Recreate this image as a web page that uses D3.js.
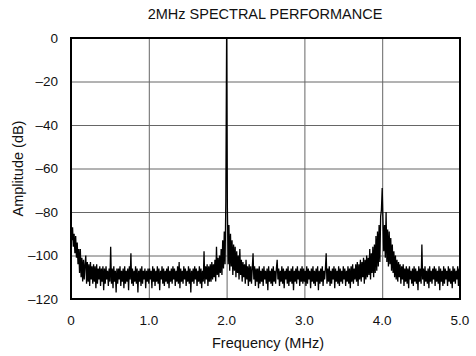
<!DOCTYPE html>
<html>
<head>
<meta charset="utf-8">
<script src="https://cdn.jsdelivr.net/npm/d3@7"></script>
<style>
  html, body { margin: 0; padding: 0; background: #fff; }
  text { font-family: "Liberation Sans", Arial, Helvetica, sans-serif; fill: #111; }
</style>
</head>
<body>
<svg id="chart" width="476" height="356"></svg>
<script>
// ---- data (amplitude in dB, one sample every 0.01 MHz) ----
const title = "2MHz SPECTRAL PERFORMANCE";
const xLabel = "Frequency (MHz)";
const yLabel = "Amplitude (dB)";
const xTicks = [0, 1, 2, 3, 4, 5];
const xTickLabels = ["0", "1.0", "2.0", "3.0", "4.0", "5.0"];
const yTicks = [0, -20, -40, -60, -80, -100, -120];
const yTickLabels = ["0", "\u201320", "\u201340", "\u201360", "\u201380", "\u2013100", "\u2013120"];
const freqStep = 0.01;

// 0.00 - 0.99 MHz
const seg0 = [
  -88,-93,-87,-96,-90,-99,-91,-101,-94,-104,
  -97,-108,-97,-110,-101,-112,-102,-111,-104,-100,
  -113,-103,-112,-104,-114,-103,-111,-105,-113,-104,
  -112,-105,-115,-104,-113,-106,-111,-105,-114,-106,
  -112,-105,-116,-106,-113,-105,-111,-107,-114,-106,
  -112,-96,-113,-106,-115,-105,-112,-107,-117,-106,
  -113,-106,-111,-105,-114,-107,-112,-106,-115,-105,
  -113,-107,-112,-106,-116,-105,-111,-99,-113,-106,
  -114,-107,-112,-105,-113,-106,-117,-107,-112,-106,
  -114,-105,-113,-107,-111,-106,-115,-107,-112,-106
];
// 1.00 - 1.99 MHz
const seg1 = [
  -113,-106,-111,-107,-115,-105,-112,-106,-114,-107,
  -112,-105,-113,-106,-116,-107,-111,-105,-113,-106,
  -114,-107,-112,-106,-113,-105,-115,-107,-112,-106,
  -113,-105,-111,-106,-114,-107,-112,-105,-113,-103,
  -115,-106,-112,-107,-113,-105,-111,-106,-114,-107,
  -112,-105,-113,-106,-117,-107,-112,-106,-113,-105,
  -111,-106,-114,-107,-112,-105,-113,-106,-115,-107,
  -112,-98,-113,-105,-111,-104,-114,-105,-112,-104,
  -112,-103,-111,-104,-110,-102,-112,-96,-109,-101,
  -110,-100,-108,-97,-109,-93,-106,-89,-104,-75
];
// 2.00 - 2.99 MHz
const seg2 = [
  0,-78,-104,-86,-107,-90,-105,-93,-109,-95,
  -107,-96,-110,-98,-108,-100,-111,-97,-109,-102,
  -112,-103,-110,-104,-113,-102,-111,-105,-114,-104,
  -112,-105,-113,-106,-99,-111,-105,-114,-106,-112,
  -106,-115,-105,-113,-107,-112,-106,-114,-105,-111,
  -107,-113,-106,-116,-105,-112,-107,-113,-106,-114,
  -105,-112,-107,-113,-106,-102,-111,-106,-114,-107,
  -112,-105,-113,-106,-115,-107,-111,-106,-113,-105,
  -114,-107,-112,-106,-113,-105,-116,-107,-112,-106,
  -113,-105,-111,-107,-114,-106,-112,-105,-113,-106
];
// 3.00 - 3.99 MHz
const seg3 = [
  -112,-107,-114,-105,-113,-106,-111,-107,-115,-106,
  -112,-105,-113,-107,-114,-106,-112,-105,-116,-107,
  -113,-106,-112,-105,-114,-107,-111,-106,-99,-113,
  -106,-112,-105,-114,-107,-113,-106,-111,-105,-115,
  -106,-112,-107,-113,-105,-114,-106,-112,-107,-113,
  -105,-111,-106,-114,-107,-112,-105,-113,-106,-115,
  -105,-112,-104,-113,-106,-111,-104,-112,-103,-114,
  -104,-111,-102,-112,-103,-110,-101,-113,-102,-111,
  -100,-110,-101,-109,-97,-111,-99,-108,-96,-110,
  -95,-108,-91,-107,-89,-105,-86,-103,-82,-79
];
// 4.00 - 5.00 MHz
const seg4 = [
  -69,-84,-98,-86,-101,-80,-103,-88,-105,-89,
  -104,-92,-107,-95,-108,-98,-110,-100,-111,-102,
  -112,-103,-110,-104,-113,-105,-111,-104,-114,-106,
  -112,-105,-113,-106,-115,-105,-111,-107,-113,-106,
  -114,-105,-112,-106,-113,-107,-116,-105,-112,-106,
  -113,-95,-111,-106,-114,-105,-112,-107,-113,-106,
  -115,-105,-112,-107,-113,-106,-111,-105,-114,-106,
  -112,-107,-113,-105,-116,-106,-112,-107,-114,-105,
  -113,-106,-111,-107,-114,-105,-112,-106,-113,-107,
  -115,-105,-112,-106,-113,-107,-111,-105,-114,-106,
  -112
];

// ---- chart ----
const svg = d3.select("#chart");
const L = 71, R = 460, T = 38, B = 299;
const x = d3.scaleLinear().domain([0, 5]).range([L, R]);
const y = d3.scaleLinear().domain([-120, 0]).range([B, T]);

const amps = [].concat(seg0, seg1, seg2, seg3, seg4);
const trace = amps.map((a, i) => ({ f: i * freqStep, a: a }));

// title
svg.append("text").attr("x", 265).attr("y", 19)
  .attr("text-anchor", "middle").style("font-size", "14.5px").text(title);

// gridlines
svg.append("g").attr("transform", `translate(0,${B})`)
  .call(d3.axisBottom(x).tickValues(xTicks).tickSize(-(B - T)).tickFormat(""))
  .call(g => g.select(".domain").remove())
  .call(g => g.selectAll("line").attr("stroke", "#666").attr("stroke-width", 1));
svg.append("g").attr("transform", `translate(${L},0)`)
  .call(d3.axisLeft(y).tickValues(yTicks).tickSize(-(R - L)).tickFormat(""))
  .call(g => g.select(".domain").remove())
  .call(g => g.selectAll("line").attr("stroke", "#666").attr("stroke-width", 1));

// trace
const line = d3.line().x(d => x(d.f)).y(d => y(d.a));
svg.append("path").datum(trace)
  .attr("d", line).attr("fill", "none")
  .attr("stroke", "#000").attr("stroke-width", 1.3)
  .attr("stroke-linejoin", "bevel");

// frame
svg.append("rect").attr("x", L).attr("y", T)
  .attr("width", R - L).attr("height", B - T)
  .attr("fill", "none").attr("stroke", "#000").attr("stroke-width", 2);

// tick labels
svg.append("g").selectAll("text").data(yTicks).join("text")
  .attr("x", 58).attr("y", d => y(d)).attr("dy", "0.35em")
  .attr("text-anchor", "end").style("font-size", "13.5px")
  .text((d, i) => yTickLabels[i]);
svg.append("g").selectAll("text").data(xTicks).join("text")
  .attr("x", d => x(d)).attr("y", 325)
  .attr("text-anchor", "middle").style("font-size", "13.5px")
  .text((d, i) => xTickLabels[i]);

// axis titles
svg.append("text").attr("x", 268).attr("y", 348)
  .attr("text-anchor", "middle").style("font-size", "14.5px").text(xLabel);
svg.append("text").attr("transform", `translate(23,${(T + B) / 2}) rotate(-90)`)
  .attr("text-anchor", "middle").style("font-size", "14.5px").text(yLabel);
</script>
</body>
</html>
